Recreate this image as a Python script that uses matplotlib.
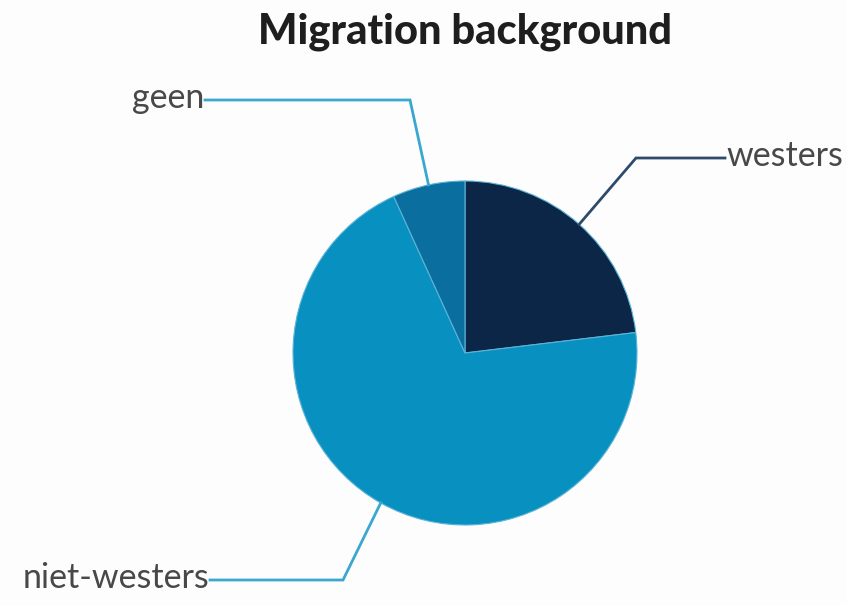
import numpy as np
import matplotlib
matplotlib.use("Agg")
import matplotlib.pyplot as plt

# data
labels = ["westers", "niet-westers", "geen"]
shares = [23.1, 70.1, 6.8]
colors = ["#0b2647", "#0891c0", "#0a6e9e"]
line_colors = ["#2e4b6c", "#3aa7d0", "#3aa7d0"]

W, H = 847, 605
fig = plt.figure(figsize=(W / 100, H / 100), dpi=100)
fig.patch.set_facecolor("#fdfdfd")
ax = fig.add_axes([0, 0, 1, 1])

cx, cy, r = 465, H - 353, 172
wedges, _ = ax.pie(shares, colors=colors, startangle=90, counterclock=False,
                   center=(cx, cy), radius=r, frame=True,
                   wedgeprops=dict(edgecolor="#5cb3d6", linewidth=0.8))
ax.set_xlim(0, W)
ax.set_ylim(0, H)
ax.set_aspect("equal")
ax.axis("off")

# leader lines: elbow point (px, image coords) and end x of horizontal run
elbows = [(636, 158), (343, 580), (410, 100)]
ends = [725, 210, 205]
for w, lab, lc, (ex, ey), tx in zip(wedges, labels, line_colors, elbows, ends):
    mid = np.deg2rad((w.theta1 + w.theta2) / 2)
    px, py = cx + r * np.cos(mid), cy + r * np.sin(mid)
    ey = H - ey
    ax.plot([px, ex, tx], [py, ey, ey], color=lc, lw=2, solid_joinstyle="miter")
    ha = "left" if tx > ex else "right"
    ax.text(tx + (1 if ha == "left" else -1), ey + 2, lab, ha=ha, va="center",
            fontsize=24.5, color="#484848", family="Lato")

ax.text(465, H - 32, "Migration background", ha="center", va="center",
        fontsize=30, fontweight="black", color="#1e1e1e", family="Lato")

fig.savefig("out.png", dpi=100, facecolor=fig.get_facecolor())
